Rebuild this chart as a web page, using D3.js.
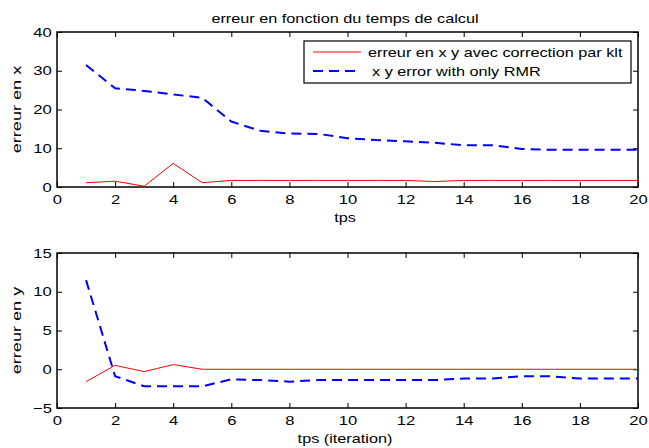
<!DOCTYPE html>
<html>
<head>
<meta charset="utf-8">
<script src="https://cdn.jsdelivr.net/npm/d3@7"></script>
<style>
  body { margin: 0; background: #fff; }
  svg text { font-family: "Liberation Sans", Arial, sans-serif; fill: #000; }
</style>
</head>
<body>
<div id="chart"></div>
<script>
// donnees
var tps = d3.range(1, 21);
var errXklt = [1.1, 1.5, 0.2, 6.1, 1.1, 1.7, 1.7, 1.7, 1.7, 1.7, 1.7, 1.7, 1.4, 1.7, 1.7, 1.7, 1.7, 1.7, 1.7, 1.7];
var errXrmr = [31.5, 25.5, 24.8, 23.9, 23.0, 16.9, 14.5, 13.8, 13.7, 12.6, 12.1, 11.8, 11.4, 10.8, 10.8, 9.8, 9.6, 9.6, 9.6, 9.6];
var errYklt = [-1.6, 0.5, -0.3, 0.6, 0, 0, 0, 0, 0, 0, 0, 0, 0, 0, 0, 0, 0, 0, 0, 0];
var errYrmr = [11.5, -0.9, -2.2, -2.2, -2.2, -1.3, -1.4, -1.6, -1.4, -1.4, -1.4, -1.4, -1.4, -1.2, -1.2, -0.9, -0.9, -1.2, -1.2, -1.2];
var xTicks = d3.range(0, 21, 2);
var yTicksTop = [0, 10, 20, 30, 40];
var yTicksBottom = [-5, 0, 5, 10, 15];
var legendLabels = ["erreur en x y avec correction par klt", "x y error with only RMR"];

var width = 649, height = 448;
var stretch = 1.3; // le texte de la figure d'origine est plus large
var svg = d3.select("#chart").append("svg")
    .attr("width", width)
    .attr("height", height);

function addText(parent, x, y, txt, size, anchor, rot, sx) {
    return parent.append("text")
        .attr("transform", "translate(" + x + "," + y + ")" + (rot ? " rotate(" + rot + ")" : "") + " scale(" + (sx || stretch) + ",1)")
        .attr("text-anchor", anchor || "start")
        .style("font-size", size + "px")
        .text(txt);
}

addText(svg, 345, 23, "erreur en fonction du temps de calcul", 12.5, "middle");

function drawPanel(top, bottom, yDomain, yTicks, klt, rmr, xLabel, yLabel, withLegend) {
    var x = d3.scaleLinear().domain([0, 20]).range([57, 638]);
    var y = d3.scaleLinear().domain(yDomain).range([bottom, top]);
    var g = svg.append("g");

    // axes, ticks vers l'interieur
    var axB = g.append("g").attr("transform", "translate(0," + bottom + ")")
        .call(d3.axisBottom(x).tickValues(xTicks).tickSize(-5).tickPadding(8).tickFormat(d3.format("d")));
    var axT = g.append("g").attr("transform", "translate(0," + top + ")")
        .call(d3.axisTop(x).tickValues(xTicks).tickSize(-5).tickFormat(""));
    var axL = g.append("g").attr("transform", "translate(57,0)")
        .call(d3.axisLeft(y).tickValues(yTicks).tickSize(-5).tickPadding(4).tickFormat(function(d) { return d < 0 ? "\u2212" + (-d) : d; }));
    var axR = g.append("g").attr("transform", "translate(638,0)")
        .call(d3.axisRight(y).tickValues(yTicks).tickSize(-5).tickFormat(""));
    [axB, axT, axL, axR].forEach(function(a) {
        a.select(".domain").remove();
        a.selectAll("line").attr("stroke", "#000");
        a.selectAll("text")
            .attr("transform", "scale(1.28,1)")
            .style("font-size", "13px")
            .style("font-family", "Liberation Sans, Arial, sans-serif");
    });

    g.append("rect")
        .attr("x", 57).attr("y", top)
        .attr("width", 638 - 57).attr("height", bottom - top)
        .attr("fill", "none").attr("stroke", "#000").attr("stroke-width", 1.5);

    var line = d3.line().x(function(d, i) { return x(tps[i]); }).y(function(d) { return y(d); });

    g.append("path").datum(rmr)
        .attr("d", line).attr("fill", "none")
        .attr("stroke", "#0000ff").attr("stroke-width", 2)
        .attr("stroke-dasharray", "10,6");
    g.append("path").datum(klt)
        .attr("d", line).attr("fill", "none")
        .attr("stroke", "#ff0000").attr("stroke-width", 1);

    addText(g, 345, bottom + 35, xLabel, 12.5, "middle");
    addText(g, 20.5, (top + bottom) / 2, yLabel, 12.5, "middle", -90, 1.45);

    if (withLegend) {
        var lg = g.append("g");
        lg.append("rect")
            .attr("x", 304).attr("y", 41).attr("width", 327).attr("height", 42)
            .attr("fill", "#fff").attr("stroke", "#000").attr("stroke-width", 1.2);
        lg.selectAll("line.leg").data(legendLabels).enter().append("line")
            .attr("x1", 313).attr("x2", 361)
            .attr("y1", function(d, i) { return 52 + i * 19; })
            .attr("y2", function(d, i) { return 52 + i * 19; })
            .attr("stroke", function(d, i) { return i == 0 ? "#ff0000" : "#0000ff"; })
            .attr("stroke-width", function(d, i) { return i == 0 ? 1 : 2; })
            .attr("stroke-dasharray", function(d, i) { return i == 0 ? null : "10,6"; });
        legendLabels.forEach(function(d, i) {
            addText(lg, i == 0 ? 368 : 372, 57 + i * 19, d, 12.5, "start");
        });
    }
}

drawPanel(32, 187, [0, 40], yTicksTop, errXklt, errXrmr, "tps", "erreur en x", true);
drawPanel(253, 408, [-5, 15], yTicksBottom, errYklt, errYrmr, "tps (iteration)", "erreur en y", false);
</script>
</body>
</html>
